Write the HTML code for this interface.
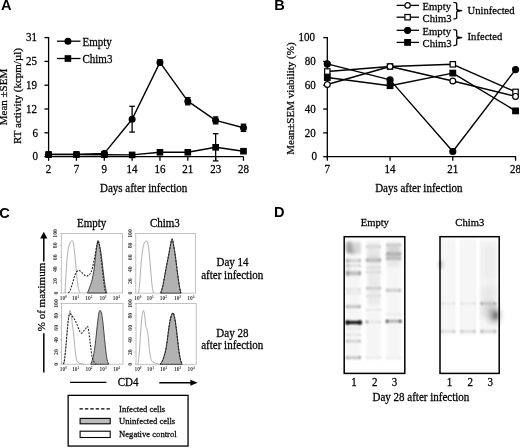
<!DOCTYPE html>
<html><head><meta charset="utf-8"><style>
html,body{margin:0;padding:0;background:#fff;width:520px;height:448px;overflow:hidden;}
svg{display:block;will-change:transform;filter:blur(0.3px);}
</style></head><body>
<svg width="520" height="448" viewBox="0 0 520 448">
<rect width="520" height="448" fill="#fff"/>
<text x="1.00" y="10.10" font-family='"Liberation Sans", sans-serif' font-size="14.6" text-anchor="start" font-weight="bold" fill="#000">A</text>
<text x="274.20" y="10.30" font-family='"Liberation Sans", sans-serif' font-size="14.6" text-anchor="start" font-weight="bold" fill="#000">B</text>
<text x="-0.80" y="218.20" font-family='"Liberation Sans", sans-serif' font-size="14.6" text-anchor="start" font-weight="bold" fill="#000">C</text>
<text x="273.90" y="217.20" font-family='"Liberation Sans", sans-serif' font-size="14.6" text-anchor="start" font-weight="bold" fill="#000">D</text>
<line x1="48.60" y1="37.00" x2="48.60" y2="157.20" stroke="#000" stroke-width="1.3"/>
<line x1="48.00" y1="156.60" x2="243.60" y2="156.60" stroke="#000" stroke-width="1.3"/>
<line x1="44.40" y1="156.60" x2="48.60" y2="156.60" stroke="#000" stroke-width="1.3"/>
<text x="38.00" y="160.40" font-family='"Liberation Serif", serif' font-size="11" text-anchor="end" font-weight="normal" fill="#000" transform="translate(0 -9.624) scale(1 1.06)" stroke="#000" stroke-width="0.25">0</text>
<line x1="44.40" y1="132.80" x2="48.60" y2="132.80" stroke="#000" stroke-width="1.3"/>
<text x="38.00" y="136.60" font-family='"Liberation Serif", serif' font-size="11" text-anchor="end" font-weight="normal" fill="#000" transform="translate(0 -8.196) scale(1 1.06)" stroke="#000" stroke-width="0.25">6</text>
<line x1="44.40" y1="109.00" x2="48.60" y2="109.00" stroke="#000" stroke-width="1.3"/>
<text x="37.05" y="112.80" font-family='"Liberation Serif", serif' font-size="11" text-anchor="end" font-weight="normal" fill="#000" transform="translate(0 -6.768) scale(1 1.06)" stroke="#000" stroke-width="0.25">12</text>
<line x1="44.40" y1="85.20" x2="48.60" y2="85.20" stroke="#000" stroke-width="1.3"/>
<text x="37.05" y="89.00" font-family='"Liberation Serif", serif' font-size="11" text-anchor="end" font-weight="normal" fill="#000" transform="translate(0 -5.340) scale(1 1.06)" stroke="#000" stroke-width="0.25">19</text>
<line x1="44.40" y1="61.40" x2="48.60" y2="61.40" stroke="#000" stroke-width="1.3"/>
<text x="37.05" y="65.20" font-family='"Liberation Serif", serif' font-size="11" text-anchor="end" font-weight="normal" fill="#000" transform="translate(0 -3.912) scale(1 1.06)" stroke="#000" stroke-width="0.25">25</text>
<line x1="44.40" y1="37.60" x2="48.60" y2="37.60" stroke="#000" stroke-width="1.3"/>
<text x="37.05" y="41.40" font-family='"Liberation Serif", serif' font-size="11" text-anchor="end" font-weight="normal" fill="#000" transform="translate(0 -2.484) scale(1 1.06)" stroke="#000" stroke-width="0.25">31</text>
<line x1="48.60" y1="156.60" x2="48.60" y2="160.80" stroke="#000" stroke-width="1.3"/>
<text x="48.60" y="173.20" font-family='"Liberation Serif", serif' font-size="11" text-anchor="middle" font-weight="normal" fill="#000" transform="translate(0 -10.392) scale(1 1.06)" stroke="#000" stroke-width="0.25">2</text>
<line x1="76.44" y1="156.60" x2="76.44" y2="160.80" stroke="#000" stroke-width="1.3"/>
<text x="76.44" y="173.20" font-family='"Liberation Serif", serif' font-size="11" text-anchor="middle" font-weight="normal" fill="#000" transform="translate(0 -10.392) scale(1 1.06)" stroke="#000" stroke-width="0.25">7</text>
<line x1="104.28" y1="156.60" x2="104.28" y2="160.80" stroke="#000" stroke-width="1.3"/>
<text x="104.28" y="173.20" font-family='"Liberation Serif", serif' font-size="11" text-anchor="middle" font-weight="normal" fill="#000" transform="translate(0 -10.392) scale(1 1.06)" stroke="#000" stroke-width="0.25">9</text>
<line x1="132.12" y1="156.60" x2="132.12" y2="160.80" stroke="#000" stroke-width="1.3"/>
<text x="132.12" y="173.20" font-family='"Liberation Serif", serif' font-size="11" text-anchor="middle" font-weight="normal" fill="#000" transform="translate(0 -10.392) scale(1 1.06)" stroke="#000" stroke-width="0.25">14</text>
<line x1="159.96" y1="156.60" x2="159.96" y2="160.80" stroke="#000" stroke-width="1.3"/>
<text x="159.96" y="173.20" font-family='"Liberation Serif", serif' font-size="11" text-anchor="middle" font-weight="normal" fill="#000" transform="translate(0 -10.392) scale(1 1.06)" stroke="#000" stroke-width="0.25">16</text>
<line x1="187.80" y1="156.60" x2="187.80" y2="160.80" stroke="#000" stroke-width="1.3"/>
<text x="187.80" y="173.20" font-family='"Liberation Serif", serif' font-size="11" text-anchor="middle" font-weight="normal" fill="#000" transform="translate(0 -10.392) scale(1 1.06)" stroke="#000" stroke-width="0.25">21</text>
<line x1="215.64" y1="156.60" x2="215.64" y2="160.80" stroke="#000" stroke-width="1.3"/>
<text x="215.64" y="173.20" font-family='"Liberation Serif", serif' font-size="11" text-anchor="middle" font-weight="normal" fill="#000" transform="translate(0 -10.392) scale(1 1.06)" stroke="#000" stroke-width="0.25">23</text>
<line x1="243.48" y1="156.60" x2="243.48" y2="160.80" stroke="#000" stroke-width="1.3"/>
<text x="243.48" y="173.20" font-family='"Liberation Serif", serif' font-size="11" text-anchor="middle" font-weight="normal" fill="#000" transform="translate(0 -10.392) scale(1 1.06)" stroke="#000" stroke-width="0.25">28</text>
<text x="143.60" y="192.40" font-family='"Liberation Serif", serif' font-size="11" text-anchor="middle" font-weight="normal" fill="#000" transform="translate(0 -11.544) scale(1 1.06)" stroke="#000" stroke-width="0.25">Days after infection</text>
<text x="7.40" y="97.00" font-family='"Liberation Serif", serif' font-size="11" text-anchor="middle" font-weight="normal" fill="#000" transform="rotate(-90 7.4 97.0)" stroke="#000" stroke-width="0.25">Mean ±SEM</text>
<text x="21.40" y="96.00" font-family='"Liberation Serif", serif' font-size="11" text-anchor="middle" font-weight="normal" fill="#000" transform="rotate(-90 21.4 96.0)" stroke="#000" stroke-width="0.25">RT activity (kcpm/µl)</text>
<line x1="132.12" y1="106.30" x2="132.12" y2="132.10" stroke="#000" stroke-width="1.3"/>
<line x1="129.32" y1="106.30" x2="134.92" y2="106.30" stroke="#000" stroke-width="1.3"/>
<line x1="129.32" y1="132.10" x2="134.92" y2="132.10" stroke="#000" stroke-width="1.3"/>
<line x1="159.96" y1="59.90" x2="159.96" y2="64.90" stroke="#000" stroke-width="1.3"/>
<line x1="157.16" y1="59.90" x2="162.76" y2="59.90" stroke="#000" stroke-width="1.3"/>
<line x1="157.16" y1="64.90" x2="162.76" y2="64.90" stroke="#000" stroke-width="1.3"/>
<line x1="187.80" y1="97.60" x2="187.80" y2="104.80" stroke="#000" stroke-width="1.3"/>
<line x1="185.00" y1="97.60" x2="190.60" y2="97.60" stroke="#000" stroke-width="1.3"/>
<line x1="185.00" y1="104.80" x2="190.60" y2="104.80" stroke="#000" stroke-width="1.3"/>
<line x1="215.64" y1="116.90" x2="215.64" y2="123.90" stroke="#000" stroke-width="1.3"/>
<line x1="212.84" y1="116.90" x2="218.44" y2="116.90" stroke="#000" stroke-width="1.3"/>
<line x1="212.84" y1="123.90" x2="218.44" y2="123.90" stroke="#000" stroke-width="1.3"/>
<line x1="215.64" y1="133.70" x2="215.64" y2="160.90" stroke="#000" stroke-width="1.3"/>
<line x1="212.84" y1="133.70" x2="218.44" y2="133.70" stroke="#000" stroke-width="1.3"/>
<line x1="212.84" y1="160.90" x2="218.44" y2="160.90" stroke="#000" stroke-width="1.3"/>
<line x1="243.48" y1="124.20" x2="243.48" y2="131.40" stroke="#000" stroke-width="1.3"/>
<line x1="240.68" y1="124.20" x2="246.28" y2="124.20" stroke="#000" stroke-width="1.3"/>
<line x1="240.68" y1="131.40" x2="246.28" y2="131.40" stroke="#000" stroke-width="1.3"/>
<polyline points="48.60,154.40 76.44,154.40 104.28,153.40 132.12,119.20 159.96,62.40 187.80,101.20 215.64,120.40 243.48,127.80" fill="none" stroke="#000" stroke-width="1.4" stroke-linejoin="round"/>
<polyline points="48.60,154.50 76.44,154.50 104.28,154.70 132.12,154.90 159.96,152.30 187.80,152.30 215.64,147.30 243.48,151.20" fill="none" stroke="#000" stroke-width="1.4" stroke-linejoin="round"/>
<circle cx="48.60" cy="154.40" r="2.9" fill="#000" stroke="#000" stroke-width="1.2"/>
<circle cx="76.44" cy="154.40" r="2.9" fill="#000" stroke="#000" stroke-width="1.2"/>
<circle cx="104.28" cy="153.40" r="2.9" fill="#000" stroke="#000" stroke-width="1.2"/>
<circle cx="132.12" cy="119.20" r="2.9" fill="#000" stroke="#000" stroke-width="1.2"/>
<circle cx="159.96" cy="62.40" r="2.9" fill="#000" stroke="#000" stroke-width="1.2"/>
<circle cx="187.80" cy="101.20" r="2.9" fill="#000" stroke="#000" stroke-width="1.2"/>
<circle cx="215.64" cy="120.40" r="2.9" fill="#000" stroke="#000" stroke-width="1.2"/>
<circle cx="243.48" cy="127.80" r="2.9" fill="#000" stroke="#000" stroke-width="1.2"/>
<rect x="45.90" y="151.80" width="5.4" height="5.4" fill="#000" stroke="#000" stroke-width="1.2"/>
<rect x="73.74" y="151.80" width="5.4" height="5.4" fill="#000" stroke="#000" stroke-width="1.2"/>
<rect x="101.58" y="152.00" width="5.4" height="5.4" fill="#000" stroke="#000" stroke-width="1.2"/>
<rect x="129.42" y="152.20" width="5.4" height="5.4" fill="#000" stroke="#000" stroke-width="1.2"/>
<rect x="157.26" y="149.60" width="5.4" height="5.4" fill="#000" stroke="#000" stroke-width="1.2"/>
<rect x="185.10" y="149.60" width="5.4" height="5.4" fill="#000" stroke="#000" stroke-width="1.2"/>
<rect x="212.94" y="144.60" width="5.4" height="5.4" fill="#000" stroke="#000" stroke-width="1.2"/>
<rect x="240.78" y="148.50" width="5.4" height="5.4" fill="#000" stroke="#000" stroke-width="1.2"/>
<line x1="57.00" y1="41.20" x2="80.50" y2="41.20" stroke="#000" stroke-width="1.3"/>
<circle cx="67.90" cy="41.20" r="2.9" fill="#000" stroke="#000" stroke-width="1.2"/>
<line x1="57.00" y1="58.50" x2="80.50" y2="58.50" stroke="#000" stroke-width="1.3"/>
<rect x="65.20" y="55.80" width="5.4" height="5.4" fill="#000" stroke="#000" stroke-width="1.2"/>
<text x="82.50" y="45.80" font-family='"Liberation Serif", serif' font-size="11" text-anchor="start" font-weight="normal" fill="#000" transform="translate(0 -2.748) scale(1 1.06)" stroke="#000" stroke-width="0.25">Empty</text>
<text x="82.50" y="62.70" font-family='"Liberation Serif", serif' font-size="11" text-anchor="start" font-weight="normal" fill="#000" transform="translate(0 -3.762) scale(1 1.06)" stroke="#000" stroke-width="0.25">Chim3</text>
<line x1="327.30" y1="37.00" x2="327.30" y2="157.30" stroke="#000" stroke-width="1.3"/>
<line x1="326.70" y1="156.70" x2="516.00" y2="156.70" stroke="#000" stroke-width="1.3"/>
<line x1="323.20" y1="156.70" x2="327.30" y2="156.70" stroke="#000" stroke-width="1.3"/>
<text x="317.00" y="160.50" font-family='"Liberation Serif", serif' font-size="11" text-anchor="end" font-weight="normal" fill="#000" transform="translate(0 -9.630) scale(1 1.06)" stroke="#000" stroke-width="0.25">0</text>
<line x1="323.20" y1="132.88" x2="327.30" y2="132.88" stroke="#000" stroke-width="1.3"/>
<text x="315.80" y="136.68" font-family='"Liberation Serif", serif' font-size="11" text-anchor="end" font-weight="normal" fill="#000" transform="translate(0 -8.201) scale(1 1.06)" stroke="#000" stroke-width="0.25">20</text>
<line x1="323.20" y1="109.06" x2="327.30" y2="109.06" stroke="#000" stroke-width="1.3"/>
<text x="315.80" y="112.86" font-family='"Liberation Serif", serif' font-size="11" text-anchor="end" font-weight="normal" fill="#000" transform="translate(0 -6.772) scale(1 1.06)" stroke="#000" stroke-width="0.25">40</text>
<line x1="323.20" y1="85.24" x2="327.30" y2="85.24" stroke="#000" stroke-width="1.3"/>
<text x="315.80" y="89.04" font-family='"Liberation Serif", serif' font-size="11" text-anchor="end" font-weight="normal" fill="#000" transform="translate(0 -5.342) scale(1 1.06)" stroke="#000" stroke-width="0.25">60</text>
<line x1="323.20" y1="61.42" x2="327.30" y2="61.42" stroke="#000" stroke-width="1.3"/>
<text x="315.80" y="65.22" font-family='"Liberation Serif", serif' font-size="11" text-anchor="end" font-weight="normal" fill="#000" transform="translate(0 -3.913) scale(1 1.06)" stroke="#000" stroke-width="0.25">80</text>
<line x1="323.20" y1="37.60" x2="327.30" y2="37.60" stroke="#000" stroke-width="1.3"/>
<text x="314.90" y="41.40" font-family='"Liberation Serif", serif' font-size="11" text-anchor="end" font-weight="normal" fill="#000" transform="translate(0 -2.484) scale(1 1.06)" stroke="#000" stroke-width="0.25">100</text>
<line x1="327.30" y1="156.70" x2="327.30" y2="160.80" stroke="#000" stroke-width="1.3"/>
<text x="327.30" y="173.20" font-family='"Liberation Serif", serif' font-size="11" text-anchor="middle" font-weight="normal" fill="#000" transform="translate(0 -10.392) scale(1 1.06)" stroke="#000" stroke-width="0.25">7</text>
<line x1="390.05" y1="156.70" x2="390.05" y2="160.80" stroke="#000" stroke-width="1.3"/>
<text x="390.05" y="173.20" font-family='"Liberation Serif", serif' font-size="11" text-anchor="middle" font-weight="normal" fill="#000" transform="translate(0 -10.392) scale(1 1.06)" stroke="#000" stroke-width="0.25">14</text>
<line x1="452.80" y1="156.70" x2="452.80" y2="160.80" stroke="#000" stroke-width="1.3"/>
<text x="452.80" y="173.20" font-family='"Liberation Serif", serif' font-size="11" text-anchor="middle" font-weight="normal" fill="#000" transform="translate(0 -10.392) scale(1 1.06)" stroke="#000" stroke-width="0.25">21</text>
<line x1="515.55" y1="156.70" x2="515.55" y2="160.80" stroke="#000" stroke-width="1.3"/>
<text x="515.55" y="173.20" font-family='"Liberation Serif", serif' font-size="11" text-anchor="middle" font-weight="normal" fill="#000" transform="translate(0 -10.392) scale(1 1.06)" stroke="#000" stroke-width="0.25">28</text>
<text x="418.80" y="192.40" font-family='"Liberation Serif", serif' font-size="11" text-anchor="middle" font-weight="normal" fill="#000" transform="translate(0 -11.544) scale(1 1.06)" stroke="#000" stroke-width="0.25">Days after infection</text>
<text x="294.00" y="98.60" font-family='"Liberation Serif", serif' font-size="11" text-anchor="middle" font-weight="normal" fill="#000" transform="rotate(-90 294.0 98.6)" stroke="#000" stroke-width="0.25">Mean±SEM viability (%)</text>
<polyline points="327.30,63.90 390.05,79.90 452.80,151.50 515.55,69.60" fill="none" stroke="#000" stroke-width="1.4" stroke-linejoin="round"/>
<polyline points="327.30,71.50 390.05,66.50 452.80,64.30 515.55,91.90" fill="none" stroke="#000" stroke-width="1.4" stroke-linejoin="round"/>
<polyline points="327.30,77.50 390.05,85.70 452.80,73.10 515.55,110.90" fill="none" stroke="#000" stroke-width="1.4" stroke-linejoin="round"/>
<polyline points="327.30,84.50 390.05,66.50 452.80,81.00 515.55,96.40" fill="none" stroke="#000" stroke-width="1.4" stroke-linejoin="round"/>
<rect x="324.50" y="74.70" width="5.6" height="5.6" fill="#000" stroke="#000" stroke-width="1.2"/>
<circle cx="327.30" cy="63.90" r="3.0" fill="#000" stroke="#000" stroke-width="1.2"/>
<rect x="324.60" y="68.80" width="5.4" height="5.4" fill="#fff" stroke="#000" stroke-width="1.2"/>
<circle cx="327.30" cy="84.50" r="2.9" fill="#fff" stroke="#000" stroke-width="1.2"/>
<rect x="387.25" y="82.90" width="5.6" height="5.6" fill="#000" stroke="#000" stroke-width="1.2"/>
<circle cx="390.05" cy="79.90" r="3.0" fill="#000" stroke="#000" stroke-width="1.2"/>
<rect x="387.35" y="63.80" width="5.4" height="5.4" fill="#fff" stroke="#000" stroke-width="1.2"/>
<circle cx="390.05" cy="66.50" r="2.9" fill="#fff" stroke="#000" stroke-width="1.2"/>
<rect x="450.00" y="70.30" width="5.6" height="5.6" fill="#000" stroke="#000" stroke-width="1.2"/>
<circle cx="452.80" cy="151.50" r="3.0" fill="#000" stroke="#000" stroke-width="1.2"/>
<rect x="450.10" y="61.60" width="5.4" height="5.4" fill="#fff" stroke="#000" stroke-width="1.2"/>
<circle cx="452.80" cy="81.00" r="2.9" fill="#fff" stroke="#000" stroke-width="1.2"/>
<rect x="512.75" y="108.10" width="5.6" height="5.6" fill="#000" stroke="#000" stroke-width="1.2"/>
<circle cx="515.55" cy="69.60" r="3.0" fill="#000" stroke="#000" stroke-width="1.2"/>
<rect x="512.85" y="89.20" width="5.4" height="5.4" fill="#fff" stroke="#000" stroke-width="1.2"/>
<circle cx="515.55" cy="96.40" r="2.9" fill="#fff" stroke="#000" stroke-width="1.2"/>
<line x1="396.60" y1="5.40" x2="419.00" y2="5.40" stroke="#000" stroke-width="1.3"/>
<circle cx="407.60" cy="5.40" r="2.7" fill="#fff" stroke="#000" stroke-width="1.2"/>
<line x1="396.60" y1="17.20" x2="419.00" y2="17.20" stroke="#000" stroke-width="1.3"/>
<rect x="404.90" y="14.50" width="5.4" height="5.4" fill="#fff" stroke="#000" stroke-width="1.2"/>
<line x1="396.60" y1="30.30" x2="419.00" y2="30.30" stroke="#000" stroke-width="1.3"/>
<circle cx="407.60" cy="30.30" r="3.0" fill="#000" stroke="#000" stroke-width="1.2"/>
<line x1="396.60" y1="42.40" x2="419.00" y2="42.40" stroke="#000" stroke-width="1.3"/>
<rect x="404.80" y="39.60" width="5.6" height="5.6" fill="#000" stroke="#000" stroke-width="1.2"/>
<text x="422.50" y="9.80" font-family='"Liberation Serif", serif' font-size="10.7" text-anchor="start" font-weight="normal" fill="#000" transform="translate(0 -0.588) scale(1 1.06)" stroke="#000" stroke-width="0.25">Empty</text>
<text x="422.50" y="21.90" font-family='"Liberation Serif", serif' font-size="10.7" text-anchor="start" font-weight="normal" fill="#000" transform="translate(0 -1.314) scale(1 1.06)" stroke="#000" stroke-width="0.25">Chim3</text>
<text x="422.50" y="35.00" font-family='"Liberation Serif", serif' font-size="10.7" text-anchor="start" font-weight="normal" fill="#000" transform="translate(0 -2.100) scale(1 1.06)" stroke="#000" stroke-width="0.25">Empty</text>
<text x="422.50" y="47.20" font-family='"Liberation Serif", serif' font-size="10.7" text-anchor="start" font-weight="normal" fill="#000" transform="translate(0 -2.832) scale(1 1.06)" stroke="#000" stroke-width="0.25">Chim3</text>
<path d="M453.4,2.4 Q456.7,2.4 456.7,3.9 L456.7,9.049999999999999 Q456.7,10.349999999999998 461.7,10.649999999999999 Q456.7,10.95 456.7,12.249999999999998 L456.7,17.4 Q456.7,18.9 453.4,18.9" fill="none" stroke="#000" stroke-width="1.3" stroke-linejoin="round"/>
<path d="M456.7,9.45 L461.7,10.649999999999999 L456.7,11.849999999999998 Z" fill="#000"/>
<path d="M453.4,29.7 Q456.7,29.7 456.7,31.2 L456.7,36.05 Q456.7,37.35 461.7,37.65 Q456.7,37.949999999999996 456.7,39.25 L456.7,44.1 Q456.7,45.6 453.4,45.6" fill="none" stroke="#000" stroke-width="1.3" stroke-linejoin="round"/>
<path d="M456.7,36.449999999999996 L461.7,37.65 L456.7,38.85 Z" fill="#000"/>
<text x="467.60" y="13.80" font-family='"Liberation Serif", serif' font-size="10.6" text-anchor="start" font-weight="normal" fill="#000" transform="translate(0 -0.828) scale(1 1.06)" stroke="#000" stroke-width="0.25">Uninfected</text>
<text x="467.60" y="40.30" font-family='"Liberation Serif", serif' font-size="10.6" text-anchor="start" font-weight="normal" fill="#000" transform="translate(0 -2.418) scale(1 1.06)" stroke="#000" stroke-width="0.25">Infected</text>
<rect x="61.3" y="233.4" width="61.30" height="59.60" fill="none" stroke="#b4b4b4" stroke-width="0.8"/>
<text x="57.50" y="293.00" font-family='"Liberation Serif", serif' font-size="5.8" text-anchor="middle" font-weight="bold" fill="#444" transform="rotate(-90 57.5 293.0)">0</text>
<line x1="59.70" y1="293.00" x2="61.30" y2="293.00" stroke="#aaa" stroke-width="0.5"/>
<text x="57.50" y="281.08" font-family='"Liberation Serif", serif' font-size="5.8" text-anchor="middle" font-weight="bold" fill="#444" transform="rotate(-90 57.5 281.08)">20</text>
<line x1="59.70" y1="281.08" x2="61.30" y2="281.08" stroke="#aaa" stroke-width="0.5"/>
<text x="57.50" y="269.16" font-family='"Liberation Serif", serif' font-size="5.8" text-anchor="middle" font-weight="bold" fill="#444" transform="rotate(-90 57.5 269.16)">40</text>
<line x1="59.70" y1="269.16" x2="61.30" y2="269.16" stroke="#aaa" stroke-width="0.5"/>
<text x="57.50" y="257.24" font-family='"Liberation Serif", serif' font-size="5.8" text-anchor="middle" font-weight="bold" fill="#444" transform="rotate(-90 57.5 257.24)">60</text>
<line x1="59.70" y1="257.24" x2="61.30" y2="257.24" stroke="#aaa" stroke-width="0.5"/>
<text x="57.50" y="245.32" font-family='"Liberation Serif", serif' font-size="5.8" text-anchor="middle" font-weight="bold" fill="#444" transform="rotate(-90 57.5 245.32)">80</text>
<line x1="59.70" y1="245.32" x2="61.30" y2="245.32" stroke="#aaa" stroke-width="0.5"/>
<text x="57.50" y="233.40" font-family='"Liberation Serif", serif' font-size="5.8" text-anchor="middle" font-weight="bold" fill="#444" transform="rotate(-90 57.5 233.4)">100</text>
<line x1="59.70" y1="233.40" x2="61.30" y2="233.40" stroke="#aaa" stroke-width="0.5"/>
<text x="63.30" y="299.60" font-family='"Liberation Serif", serif' font-size="5.4" text-anchor="middle" fill="#444" font-weight="bold">10<tspan font-size="3.4" dy="-1.8">0</tspan></text>
<text x="75.60" y="299.60" font-family='"Liberation Serif", serif' font-size="5.4" text-anchor="middle" fill="#444" font-weight="bold">10<tspan font-size="3.4" dy="-1.8">1</tspan></text>
<text x="88.90" y="299.60" font-family='"Liberation Serif", serif' font-size="5.4" text-anchor="middle" fill="#444" font-weight="bold">10<tspan font-size="3.4" dy="-1.8">2</tspan></text>
<text x="103.00" y="299.60" font-family='"Liberation Serif", serif' font-size="5.4" text-anchor="middle" fill="#444" font-weight="bold">10<tspan font-size="3.4" dy="-1.8">3</tspan></text>
<text x="116.40" y="299.60" font-family='"Liberation Serif", serif' font-size="5.4" text-anchor="middle" fill="#444" font-weight="bold">10<tspan font-size="3.4" dy="-1.8">4</tspan></text>
<rect x="135.8" y="233.5" width="59.60" height="59.60" fill="none" stroke="#b4b4b4" stroke-width="0.8"/>
<text x="132.00" y="293.10" font-family='"Liberation Serif", serif' font-size="5.8" text-anchor="middle" font-weight="bold" fill="#444" transform="rotate(-90 132.0 293.1)">0</text>
<line x1="134.20" y1="293.10" x2="135.80" y2="293.10" stroke="#aaa" stroke-width="0.5"/>
<text x="132.00" y="281.18" font-family='"Liberation Serif", serif' font-size="5.8" text-anchor="middle" font-weight="bold" fill="#444" transform="rotate(-90 132.0 281.18)">20</text>
<line x1="134.20" y1="281.18" x2="135.80" y2="281.18" stroke="#aaa" stroke-width="0.5"/>
<text x="132.00" y="269.26" font-family='"Liberation Serif", serif' font-size="5.8" text-anchor="middle" font-weight="bold" fill="#444" transform="rotate(-90 132.0 269.26)">40</text>
<line x1="134.20" y1="269.26" x2="135.80" y2="269.26" stroke="#aaa" stroke-width="0.5"/>
<text x="132.00" y="257.34" font-family='"Liberation Serif", serif' font-size="5.8" text-anchor="middle" font-weight="bold" fill="#444" transform="rotate(-90 132.0 257.34000000000003)">60</text>
<line x1="134.20" y1="257.34" x2="135.80" y2="257.34" stroke="#aaa" stroke-width="0.5"/>
<text x="132.00" y="245.42" font-family='"Liberation Serif", serif' font-size="5.8" text-anchor="middle" font-weight="bold" fill="#444" transform="rotate(-90 132.0 245.42000000000002)">80</text>
<line x1="134.20" y1="245.42" x2="135.80" y2="245.42" stroke="#aaa" stroke-width="0.5"/>
<text x="132.00" y="233.50" font-family='"Liberation Serif", serif' font-size="5.8" text-anchor="middle" font-weight="bold" fill="#444" transform="rotate(-90 132.0 233.5)">100</text>
<line x1="134.20" y1="233.50" x2="135.80" y2="233.50" stroke="#aaa" stroke-width="0.5"/>
<text x="137.80" y="299.70" font-family='"Liberation Serif", serif' font-size="5.4" text-anchor="middle" fill="#444" font-weight="bold">10<tspan font-size="3.4" dy="-1.8">0</tspan></text>
<text x="150.10" y="299.70" font-family='"Liberation Serif", serif' font-size="5.4" text-anchor="middle" fill="#444" font-weight="bold">10<tspan font-size="3.4" dy="-1.8">1</tspan></text>
<text x="163.40" y="299.70" font-family='"Liberation Serif", serif' font-size="5.4" text-anchor="middle" fill="#444" font-weight="bold">10<tspan font-size="3.4" dy="-1.8">2</tspan></text>
<text x="177.50" y="299.70" font-family='"Liberation Serif", serif' font-size="5.4" text-anchor="middle" fill="#444" font-weight="bold">10<tspan font-size="3.4" dy="-1.8">3</tspan></text>
<text x="190.90" y="299.70" font-family='"Liberation Serif", serif' font-size="5.4" text-anchor="middle" fill="#444" font-weight="bold">10<tspan font-size="3.4" dy="-1.8">4</tspan></text>
<rect x="61.4" y="303.5" width="61.60" height="60.70" fill="none" stroke="#b4b4b4" stroke-width="0.8"/>
<text x="57.60" y="364.20" font-family='"Liberation Serif", serif' font-size="5.8" text-anchor="middle" font-weight="bold" fill="#444" transform="rotate(-90 57.6 364.2)">0</text>
<line x1="59.80" y1="364.20" x2="61.40" y2="364.20" stroke="#aaa" stroke-width="0.5"/>
<text x="57.60" y="352.06" font-family='"Liberation Serif", serif' font-size="5.8" text-anchor="middle" font-weight="bold" fill="#444" transform="rotate(-90 57.6 352.06)">20</text>
<line x1="59.80" y1="352.06" x2="61.40" y2="352.06" stroke="#aaa" stroke-width="0.5"/>
<text x="57.60" y="339.92" font-family='"Liberation Serif", serif' font-size="5.8" text-anchor="middle" font-weight="bold" fill="#444" transform="rotate(-90 57.6 339.92)">40</text>
<line x1="59.80" y1="339.92" x2="61.40" y2="339.92" stroke="#aaa" stroke-width="0.5"/>
<text x="57.60" y="327.78" font-family='"Liberation Serif", serif' font-size="5.8" text-anchor="middle" font-weight="bold" fill="#444" transform="rotate(-90 57.6 327.78)">60</text>
<line x1="59.80" y1="327.78" x2="61.40" y2="327.78" stroke="#aaa" stroke-width="0.5"/>
<text x="57.60" y="315.64" font-family='"Liberation Serif", serif' font-size="5.8" text-anchor="middle" font-weight="bold" fill="#444" transform="rotate(-90 57.6 315.64)">80</text>
<line x1="59.80" y1="315.64" x2="61.40" y2="315.64" stroke="#aaa" stroke-width="0.5"/>
<text x="57.60" y="303.50" font-family='"Liberation Serif", serif' font-size="5.8" text-anchor="middle" font-weight="bold" fill="#444" transform="rotate(-90 57.6 303.5)">100</text>
<line x1="59.80" y1="303.50" x2="61.40" y2="303.50" stroke="#aaa" stroke-width="0.5"/>
<text x="63.40" y="370.80" font-family='"Liberation Serif", serif' font-size="5.4" text-anchor="middle" fill="#444" font-weight="bold">10<tspan font-size="3.4" dy="-1.8">0</tspan></text>
<text x="75.70" y="370.80" font-family='"Liberation Serif", serif' font-size="5.4" text-anchor="middle" fill="#444" font-weight="bold">10<tspan font-size="3.4" dy="-1.8">1</tspan></text>
<text x="89.00" y="370.80" font-family='"Liberation Serif", serif' font-size="5.4" text-anchor="middle" fill="#444" font-weight="bold">10<tspan font-size="3.4" dy="-1.8">2</tspan></text>
<text x="103.10" y="370.80" font-family='"Liberation Serif", serif' font-size="5.4" text-anchor="middle" fill="#444" font-weight="bold">10<tspan font-size="3.4" dy="-1.8">3</tspan></text>
<text x="116.50" y="370.80" font-family='"Liberation Serif", serif' font-size="5.4" text-anchor="middle" fill="#444" font-weight="bold">10<tspan font-size="3.4" dy="-1.8">4</tspan></text>
<rect x="136.0" y="303.5" width="60.20" height="60.80" fill="none" stroke="#b4b4b4" stroke-width="0.8"/>
<text x="132.20" y="364.30" font-family='"Liberation Serif", serif' font-size="5.8" text-anchor="middle" font-weight="bold" fill="#444" transform="rotate(-90 132.2 364.3)">0</text>
<line x1="134.40" y1="364.30" x2="136.00" y2="364.30" stroke="#aaa" stroke-width="0.5"/>
<text x="132.20" y="352.14" font-family='"Liberation Serif", serif' font-size="5.8" text-anchor="middle" font-weight="bold" fill="#444" transform="rotate(-90 132.2 352.14)">20</text>
<line x1="134.40" y1="352.14" x2="136.00" y2="352.14" stroke="#aaa" stroke-width="0.5"/>
<text x="132.20" y="339.98" font-family='"Liberation Serif", serif' font-size="5.8" text-anchor="middle" font-weight="bold" fill="#444" transform="rotate(-90 132.2 339.98)">40</text>
<line x1="134.40" y1="339.98" x2="136.00" y2="339.98" stroke="#aaa" stroke-width="0.5"/>
<text x="132.20" y="327.82" font-family='"Liberation Serif", serif' font-size="5.8" text-anchor="middle" font-weight="bold" fill="#444" transform="rotate(-90 132.2 327.82)">60</text>
<line x1="134.40" y1="327.82" x2="136.00" y2="327.82" stroke="#aaa" stroke-width="0.5"/>
<text x="132.20" y="315.66" font-family='"Liberation Serif", serif' font-size="5.8" text-anchor="middle" font-weight="bold" fill="#444" transform="rotate(-90 132.2 315.66)">80</text>
<line x1="134.40" y1="315.66" x2="136.00" y2="315.66" stroke="#aaa" stroke-width="0.5"/>
<text x="132.20" y="303.50" font-family='"Liberation Serif", serif' font-size="5.8" text-anchor="middle" font-weight="bold" fill="#444" transform="rotate(-90 132.2 303.5)">100</text>
<line x1="134.40" y1="303.50" x2="136.00" y2="303.50" stroke="#aaa" stroke-width="0.5"/>
<text x="138.00" y="370.90" font-family='"Liberation Serif", serif' font-size="5.4" text-anchor="middle" fill="#444" font-weight="bold">10<tspan font-size="3.4" dy="-1.8">0</tspan></text>
<text x="150.30" y="370.90" font-family='"Liberation Serif", serif' font-size="5.4" text-anchor="middle" fill="#444" font-weight="bold">10<tspan font-size="3.4" dy="-1.8">1</tspan></text>
<text x="163.60" y="370.90" font-family='"Liberation Serif", serif' font-size="5.4" text-anchor="middle" fill="#444" font-weight="bold">10<tspan font-size="3.4" dy="-1.8">2</tspan></text>
<text x="177.70" y="370.90" font-family='"Liberation Serif", serif' font-size="5.4" text-anchor="middle" fill="#444" font-weight="bold">10<tspan font-size="3.4" dy="-1.8">3</tspan></text>
<text x="191.10" y="370.90" font-family='"Liberation Serif", serif' font-size="5.4" text-anchor="middle" fill="#444" font-weight="bold">10<tspan font-size="3.4" dy="-1.8">4</tspan></text>
<path d="M65.00,293.00 C65.17,290.03 65.60,281.52 66.00,275.20 C66.40,268.88 66.83,260.23 67.40,255.10 C67.97,249.97 68.67,246.82 69.40,244.40 C70.13,241.98 71.13,240.83 71.80,240.60 C72.47,240.37 72.92,240.80 73.40,243.00 C73.88,245.20 74.25,249.55 74.70,253.80 C75.15,258.05 75.65,263.82 76.10,268.50 C76.55,273.18 76.95,278.32 77.40,281.90 C77.85,285.48 78.35,288.15 78.80,290.00 C79.25,291.85 79.88,292.50 80.10,293.00" fill="none" stroke="#9a9a9a" stroke-width="0.8"/>
<path d="M87.50,293.00 C87.95,291.82 89.42,288.20 90.20,285.90 C90.98,283.60 91.53,282.10 92.20,279.20 C92.87,276.30 93.65,272.30 94.20,268.50 C94.75,264.70 94.98,260.65 95.50,256.40 C96.02,252.15 96.85,245.57 97.30,243.00 C97.75,240.43 97.72,240.10 98.20,241.00 C98.68,241.90 99.63,245.60 100.20,248.40 C100.77,251.20 101.15,254.45 101.60,257.80 C102.05,261.15 102.47,264.93 102.90,268.50 C103.33,272.07 103.75,275.85 104.20,279.20 C104.65,282.55 105.15,286.30 105.60,288.60 C106.05,290.90 106.68,292.27 106.90,293.00 Z" fill="#b2b2b2" stroke="#333" stroke-width="0.9"/>
<path d="M68.50,293.00 C68.75,292.60 69.40,292.00 70.00,290.60 C70.60,289.20 71.42,286.72 72.10,284.60 C72.78,282.48 73.43,279.92 74.10,277.90 C74.77,275.88 75.32,273.73 76.10,272.50 C76.88,271.27 77.92,270.60 78.80,270.50 C79.68,270.40 80.62,271.23 81.40,271.90 C82.18,272.57 82.72,273.83 83.50,274.50 C84.28,275.17 85.22,275.78 86.10,275.90 C86.98,276.02 87.90,275.98 88.80,275.20 C89.70,274.42 90.72,273.22 91.50,271.20 C92.28,269.18 92.90,265.78 93.50,263.10 C94.10,260.42 94.60,257.77 95.10,255.10 C95.60,252.43 95.98,249.45 96.50,247.10 C97.02,244.75 97.70,241.23 98.20,241.00 C98.70,240.77 99.05,243.13 99.50,245.70 C99.95,248.27 100.45,252.60 100.90,256.40 C101.35,260.20 101.75,264.47 102.20,268.50 C102.65,272.53 103.15,277.02 103.60,280.60 C104.05,284.18 104.47,287.93 104.90,290.00 C105.33,292.07 105.98,292.50 106.20,293.00" fill="none" stroke="#222" stroke-width="1.05" stroke-dasharray="1.9,1.3"/>
<path d="M138.70,293.10 C138.92,290.78 139.55,284.63 140.00,279.20 C140.45,273.77 140.83,266.08 141.40,260.50 C141.97,254.92 142.58,248.95 143.40,245.70 C144.22,242.45 145.52,241.22 146.30,241.00 C147.08,240.78 147.58,242.05 148.10,244.40 C148.62,246.75 148.95,250.63 149.40,255.10 C149.85,259.57 150.35,266.07 150.80,271.20 C151.25,276.33 151.67,282.25 152.10,285.90 C152.53,289.55 153.18,291.90 153.40,293.10" fill="none" stroke="#9a9a9a" stroke-width="0.8"/>
<path d="M160.80,293.10 C161.13,291.90 162.13,288.88 162.80,285.90 C163.47,282.92 164.13,278.77 164.80,275.20 C165.47,271.63 166.12,268.07 166.80,264.50 C167.48,260.93 168.22,257.38 168.90,253.80 C169.58,250.22 170.35,245.47 170.90,243.00 C171.45,240.53 171.77,238.77 172.20,239.00 C172.63,239.23 172.93,241.27 173.50,244.40 C174.07,247.53 174.92,252.88 175.60,257.80 C176.28,262.72 176.93,268.98 177.60,273.90 C178.27,278.82 179.05,284.10 179.60,287.30 C180.15,290.50 180.68,292.13 180.90,293.10 Z" fill="#b2b2b2" stroke="#333" stroke-width="0.9"/>
<path d="M160.80,293.10 C161.13,291.90 162.13,288.88 162.80,285.90 C163.47,282.92 164.13,278.77 164.80,275.20 C165.47,271.63 166.12,268.07 166.80,264.50 C167.48,260.93 168.22,257.38 168.90,253.80 C169.58,250.22 170.35,245.47 170.90,243.00 C171.45,240.53 171.77,238.77 172.20,239.00 C172.63,239.23 172.93,241.27 173.50,244.40 C174.07,247.53 174.92,252.88 175.60,257.80 C176.28,262.72 176.93,268.98 177.60,273.90 C178.27,278.82 179.05,284.10 179.60,287.30 C180.15,290.50 180.68,292.13 180.90,293.10" fill="none" stroke="#222" stroke-width="1.05" stroke-dasharray="1.9,1.3"/>
<path d="M64.00,364.20 C64.33,361.03 65.37,351.72 66.00,345.20 C66.63,338.68 67.23,330.47 67.80,325.10 C68.37,319.73 69.02,315.45 69.40,313.00 C69.78,310.55 69.77,309.95 70.10,310.40 C70.43,310.85 71.07,313.70 71.40,315.70 C71.73,317.70 71.77,319.72 72.10,322.40 C72.43,325.08 72.97,328.00 73.40,331.80 C73.83,335.60 74.25,340.95 74.70,345.20 C75.15,349.45 75.53,354.40 76.10,357.30 C76.67,360.20 76.77,361.45 78.10,362.60 C79.43,363.75 83.10,363.93 84.10,364.20" fill="none" stroke="#9a9a9a" stroke-width="0.8"/>
<path d="M90.80,364.20 C91.13,363.27 92.17,361.10 92.80,358.60 C93.43,356.10 94.08,352.55 94.60,349.20 C95.12,345.85 95.45,342.52 95.90,338.50 C96.35,334.48 96.80,329.35 97.30,325.10 C97.80,320.85 98.42,315.45 98.90,313.00 C99.38,310.55 99.72,310.17 100.20,310.40 C100.68,310.63 101.30,311.95 101.80,314.40 C102.30,316.85 102.75,321.08 103.20,325.10 C103.65,329.12 104.07,334.25 104.50,338.50 C104.93,342.75 105.35,347.02 105.80,350.60 C106.25,354.18 106.68,357.73 107.20,360.00 C107.72,362.27 108.62,363.50 108.90,364.20 Z" fill="#b2b2b2" stroke="#333" stroke-width="0.9"/>
<path d="M63.40,364.20 C63.62,363.27 64.27,361.77 64.70,358.60 C65.13,355.43 65.55,350.12 66.00,345.20 C66.45,340.28 67.02,333.35 67.40,329.10 C67.78,324.85 67.92,322.27 68.30,319.70 C68.68,317.13 69.18,314.47 69.70,313.70 C70.22,312.93 70.78,314.43 71.40,315.10 C72.02,315.77 72.73,316.70 73.40,317.70 C74.07,318.70 74.77,319.87 75.40,321.10 C76.03,322.33 76.53,323.53 77.20,325.10 C77.87,326.67 78.70,329.15 79.40,330.50 C80.10,331.85 80.72,333.10 81.40,333.20 C82.08,333.30 82.82,331.78 83.50,331.10 C84.18,330.42 84.83,329.88 85.50,329.10 C86.17,328.32 86.95,325.95 87.50,326.40 C88.05,326.85 88.42,329.57 88.80,331.80 C89.18,334.03 89.47,337.12 89.80,339.80 C90.13,342.48 90.40,344.98 90.80,347.90 C91.20,350.82 91.63,354.95 92.20,357.30 C92.77,359.65 93.53,360.85 94.20,362.00 C94.87,363.15 95.87,363.83 96.20,364.20" fill="none" stroke="#222" stroke-width="1.05" stroke-dasharray="1.9,1.3"/>
<path d="M138.00,364.30 C138.23,362.23 138.95,357.32 139.40,351.90 C139.85,346.48 140.27,337.60 140.70,331.80 C141.13,326.00 141.55,320.67 142.00,317.10 C142.45,313.53 142.95,310.63 143.40,310.40 C143.85,310.17 144.30,313.03 144.70,315.70 C145.10,318.37 145.47,324.27 145.80,326.40 C146.13,328.53 146.32,326.93 146.70,328.50 C147.08,330.07 147.65,332.35 148.10,335.80 C148.55,339.25 148.95,345.40 149.40,349.20 C149.85,353.00 150.23,356.47 150.80,358.60 C151.37,360.73 151.92,361.22 152.80,362.00 C153.68,362.78 155.10,362.92 156.10,363.30 C157.10,363.68 158.35,364.13 158.80,364.30" fill="none" stroke="#9a9a9a" stroke-width="0.8"/>
<path d="M160.10,364.30 C160.45,363.80 161.52,362.70 162.20,361.30 C162.88,359.90 163.58,357.92 164.20,355.90 C164.82,353.88 165.35,352.10 165.90,349.20 C166.45,346.30 166.97,342.30 167.50,338.50 C168.03,334.70 168.53,329.97 169.10,326.40 C169.67,322.83 170.27,319.33 170.90,317.10 C171.53,314.87 172.30,313.00 172.90,313.00 C173.50,313.00 173.95,314.63 174.50,317.10 C175.05,319.57 175.68,324.02 176.20,327.80 C176.72,331.58 177.15,336.00 177.60,339.80 C178.05,343.60 178.47,347.47 178.90,350.60 C179.33,353.73 179.68,356.32 180.20,358.60 C180.72,360.88 181.70,363.35 182.00,364.30 Z" fill="#b2b2b2" stroke="#333" stroke-width="0.9"/>
<path d="M160.10,364.30 C160.45,363.80 161.52,362.70 162.20,361.30 C162.88,359.90 163.58,357.92 164.20,355.90 C164.82,353.88 165.35,352.10 165.90,349.20 C166.45,346.30 166.97,342.30 167.50,338.50 C168.03,334.70 168.53,329.97 169.10,326.40 C169.67,322.83 170.27,319.33 170.90,317.10 C171.53,314.87 172.30,313.00 172.90,313.00 C173.50,313.00 173.95,314.63 174.50,317.10 C175.05,319.57 175.68,324.02 176.20,327.80 C176.72,331.58 177.15,336.00 177.60,339.80 C178.05,343.60 178.47,347.47 178.90,350.60 C179.33,353.73 179.68,356.32 180.20,358.60 C180.72,360.88 181.70,363.35 182.00,364.30" fill="none" stroke="#222" stroke-width="1.05" stroke-dasharray="1.9,1.3"/>
<text x="91.70" y="226.80" font-family='"Liberation Serif", serif' font-size="11" text-anchor="middle" font-weight="normal" fill="#000" transform="translate(0 -13.608) scale(1 1.06)" stroke="#000" stroke-width="0.25">Empty</text>
<text x="164.90" y="226.70" font-family='"Liberation Serif", serif' font-size="11" text-anchor="middle" font-weight="normal" fill="#000" transform="translate(0 -13.602) scale(1 1.06)" stroke="#000" stroke-width="0.25">Chim3</text>
<text x="232.60" y="265.70" font-family='"Liberation Serif", serif' font-size="11" text-anchor="middle" font-weight="normal" fill="#000" transform="translate(0 -15.942) scale(1 1.06)" stroke="#000" stroke-width="0.25">Day 14</text>
<text x="232.20" y="278.80" font-family='"Liberation Serif", serif' font-size="11" text-anchor="middle" font-weight="normal" fill="#000" transform="translate(0 -16.728) scale(1 1.06)" stroke="#000" stroke-width="0.25">after infection</text>
<text x="232.40" y="336.60" font-family='"Liberation Serif", serif' font-size="11" text-anchor="middle" font-weight="normal" fill="#000" transform="translate(0 -20.196) scale(1 1.06)" stroke="#000" stroke-width="0.25">Day 28</text>
<text x="232.20" y="349.50" font-family='"Liberation Serif", serif' font-size="11" text-anchor="middle" font-weight="normal" fill="#000" transform="translate(0 -20.970) scale(1 1.06)" stroke="#000" stroke-width="0.25">after infection</text>
<line x1="43.80" y1="237.50" x2="43.80" y2="261.60" stroke="#000" stroke-width="1.5"/>
<path d="M43.8,231.7 L47.4,238.6 L40.2,238.6 Z" fill="#000"/>
<text x="45.40" y="297.00" font-family='"Liberation Serif", serif' font-size="11" text-anchor="middle" font-weight="normal" fill="#000" transform="rotate(-90 45.4 297.0)" stroke="#000" stroke-width="0.25">% of maximum</text>
<line x1="43.80" y1="333.20" x2="43.80" y2="372.50" stroke="#000" stroke-width="1.5"/>
<line x1="70.10" y1="382.40" x2="106.40" y2="382.40" stroke="#000" stroke-width="1.4"/>
<text x="117.80" y="386.20" font-family='"Liberation Serif", serif' font-size="11" text-anchor="start" font-weight="normal" fill="#000" transform="translate(0 -23.172) scale(1 1.06)" stroke="#000" stroke-width="0.25">CD4</text>
<line x1="159.30" y1="382.70" x2="191.50" y2="382.70" stroke="#000" stroke-width="1.4"/>
<path d="M197.6,382.7 L190.4,379.7 L190.4,385.7 Z" fill="#000"/>
<rect x="68.15" y="395.35" width="119.9" height="50.7" fill="#fff" stroke="#000" stroke-width="1.3"/>
<line x1="79.50" y1="408.90" x2="110.40" y2="408.90" stroke="#000" stroke-width="1.2" stroke-dasharray="3.4,2"/>
<rect x="80.1" y="418.4" width="30.1" height="5.4" fill="#bcbcbc" stroke="#000" stroke-width="1.1"/>
<rect x="80.1" y="431.2" width="30.1" height="6.3" fill="#fff" stroke="#000" stroke-width="1.1"/>
<text x="119.10" y="412.10" font-family='"Liberation Serif", serif' font-size="8.6" text-anchor="start" font-weight="normal" fill="#000" transform="translate(0 -24.726) scale(1 1.06)" stroke="#000" stroke-width="0.25">Infected cells</text>
<text x="119.10" y="423.80" font-family='"Liberation Serif", serif' font-size="8.6" text-anchor="start" font-weight="normal" fill="#000" transform="translate(0 -25.428) scale(1 1.06)" stroke="#000" stroke-width="0.25">Uninfected cells</text>
<text x="119.10" y="437.20" font-family='"Liberation Serif", serif' font-size="8.6" text-anchor="start" font-weight="normal" fill="#000" transform="translate(0 -26.232) scale(1 1.06)" stroke="#000" stroke-width="0.25">Negative control</text>
<text x="374.80" y="226.00" font-family='"Liberation Serif", serif' font-size="10.6" text-anchor="middle" font-weight="normal" fill="#000" transform="translate(0 -13.560) scale(1 1.06)" stroke="#000" stroke-width="0.25">Empty</text>
<text x="469.80" y="226.00" font-family='"Liberation Serif", serif' font-size="10.6" text-anchor="middle" font-weight="normal" fill="#000" transform="translate(0 -13.560) scale(1 1.06)" stroke="#000" stroke-width="0.25">Chim3</text>
<text x="354.10" y="386.30" font-family='"Liberation Serif", serif' font-size="11" text-anchor="middle" font-weight="normal" fill="#000" transform="translate(0 -23.178) scale(1 1.06)" stroke="#000" stroke-width="0.25">1</text>
<text x="374.70" y="386.30" font-family='"Liberation Serif", serif' font-size="11" text-anchor="middle" font-weight="normal" fill="#000" transform="translate(0 -23.178) scale(1 1.06)" stroke="#000" stroke-width="0.25">2</text>
<text x="394.50" y="386.30" font-family='"Liberation Serif", serif' font-size="11" text-anchor="middle" font-weight="normal" fill="#000" transform="translate(0 -23.178) scale(1 1.06)" stroke="#000" stroke-width="0.25">3</text>
<text x="449.50" y="386.30" font-family='"Liberation Serif", serif' font-size="11" text-anchor="middle" font-weight="normal" fill="#000" transform="translate(0 -23.178) scale(1 1.06)" stroke="#000" stroke-width="0.25">1</text>
<text x="470.30" y="386.30" font-family='"Liberation Serif", serif' font-size="11" text-anchor="middle" font-weight="normal" fill="#000" transform="translate(0 -23.178) scale(1 1.06)" stroke="#000" stroke-width="0.25">2</text>
<text x="490.20" y="386.30" font-family='"Liberation Serif", serif' font-size="11" text-anchor="middle" font-weight="normal" fill="#000" transform="translate(0 -23.178) scale(1 1.06)" stroke="#000" stroke-width="0.25">3</text>
<text x="420.90" y="401.50" font-family='"Liberation Serif", serif' font-size="11" text-anchor="middle" font-weight="normal" fill="#000" transform="translate(0 -24.090) scale(1 1.06)" stroke="#000" stroke-width="0.25">Day 28 after infection</text>
<defs><filter id="bl1" filterUnits="userSpaceOnUse" x="0" y="0" width="520" height="448"><feGaussianBlur stdDeviation="0.8"/></filter><filter id="bl2" filterUnits="userSpaceOnUse" x="0" y="0" width="520" height="448"><feGaussianBlur stdDeviation="1.6"/></filter><filter id="bl3" filterUnits="userSpaceOnUse" x="0" y="0" width="520" height="448"><feGaussianBlur stdDeviation="3"/></filter></defs>
<g>
<rect x="346.20" y="240.00" width="14.60" height="120.00" fill="#000" opacity="0.035" filter="url(#bl2)"/>
<rect x="366.00" y="240.00" width="15.00" height="120.00" fill="#000" opacity="0.035" filter="url(#bl2)"/>
<rect x="386.20" y="240.00" width="15.00" height="120.00" fill="#000" opacity="0.035" filter="url(#bl2)"/>
<rect x="346.00" y="242.50" width="15.00" height="11.00" fill="#000" opacity="0.12" filter="url(#bl2)"/>
<ellipse cx="349" cy="247" rx="3.5" ry="6" fill="#000" opacity="0.22" filter="url(#bl2)"/>
<ellipse cx="352" cy="252" rx="3" ry="3" fill="#000" opacity="0.12" filter="url(#bl2)"/>
<rect x="346.70" y="259.60" width="13.60" height="2.00" fill="#000" opacity="0.2" filter="url(#bl1)"/>
<ellipse cx="347.2" cy="260.6" rx="0.9" ry="1.3" fill="#000" opacity="0.32000000000000006" filter="url(#bl1)"/>
<ellipse cx="359.8" cy="260.6" rx="0.9" ry="1.3" fill="#000" opacity="0.32000000000000006" filter="url(#bl1)"/>
<rect x="346.70" y="264.80" width="13.60" height="1.80" fill="#000" opacity="0.12" filter="url(#bl1)"/>
<ellipse cx="347.2" cy="265.7" rx="0.9" ry="1.2" fill="#000" opacity="0.192" filter="url(#bl1)"/>
<ellipse cx="359.8" cy="265.7" rx="0.9" ry="1.2" fill="#000" opacity="0.192" filter="url(#bl1)"/>
<rect x="346.70" y="271.30" width="13.60" height="4.00" fill="#000" opacity="0.22" filter="url(#bl1)"/>
<ellipse cx="347.2" cy="273.3" rx="0.9" ry="2.3" fill="#000" opacity="0.35200000000000004" filter="url(#bl1)"/>
<ellipse cx="359.8" cy="273.3" rx="0.9" ry="2.3" fill="#000" opacity="0.35200000000000004" filter="url(#bl1)"/>
<rect x="346.00" y="258.00" width="4.00" height="20.00" fill="#000" opacity="0.08" filter="url(#bl2)"/>
<rect x="346.70" y="288.50" width="13.60" height="2.00" fill="#000" opacity="0.08" filter="url(#bl1)"/>
<ellipse cx="347.2" cy="289.5" rx="0.9" ry="1.3" fill="#000" opacity="0.128" filter="url(#bl1)"/>
<ellipse cx="359.8" cy="289.5" rx="0.9" ry="1.3" fill="#000" opacity="0.128" filter="url(#bl1)"/>
<rect x="346.70" y="292.20" width="13.60" height="1.60" fill="#000" opacity="0.07" filter="url(#bl1)"/>
<ellipse cx="347.2" cy="293" rx="0.9" ry="1.1" fill="#000" opacity="0.11200000000000002" filter="url(#bl1)"/>
<ellipse cx="359.8" cy="293" rx="0.9" ry="1.1" fill="#000" opacity="0.11200000000000002" filter="url(#bl1)"/>
<rect x="346.70" y="305.20" width="13.60" height="2.80" fill="#000" opacity="0.2" filter="url(#bl1)"/>
<ellipse cx="347.2" cy="306.6" rx="0.9" ry="1.7" fill="#000" opacity="0.27999999999999997" filter="url(#bl1)"/>
<ellipse cx="359.8" cy="306.6" rx="0.9" ry="1.7" fill="#000" opacity="0.27999999999999997" filter="url(#bl1)"/>
<rect x="346.70" y="327.70" width="13.60" height="1.60" fill="#000" opacity="0.06" filter="url(#bl1)"/>
<ellipse cx="347.2" cy="328.5" rx="0.9" ry="1.1" fill="#000" opacity="0.096" filter="url(#bl1)"/>
<ellipse cx="359.8" cy="328.5" rx="0.9" ry="1.1" fill="#000" opacity="0.096" filter="url(#bl1)"/>
<rect x="346.70" y="334.10" width="13.60" height="1.60" fill="#000" opacity="0.08" filter="url(#bl1)"/>
<ellipse cx="347.2" cy="334.9" rx="0.9" ry="1.1" fill="#000" opacity="0.128" filter="url(#bl1)"/>
<ellipse cx="359.8" cy="334.9" rx="0.9" ry="1.1" fill="#000" opacity="0.128" filter="url(#bl1)"/>
<rect x="346.70" y="340.10" width="13.60" height="2.20" fill="#000" opacity="0.16" filter="url(#bl1)"/>
<ellipse cx="347.2" cy="341.2" rx="0.9" ry="1.4000000000000001" fill="#000" opacity="0.256" filter="url(#bl1)"/>
<ellipse cx="359.8" cy="341.2" rx="0.9" ry="1.4000000000000001" fill="#000" opacity="0.256" filter="url(#bl1)"/>
<rect x="346.70" y="356.40" width="13.60" height="2.60" fill="#000" opacity="0.2" filter="url(#bl1)"/>
<ellipse cx="347.2" cy="357.7" rx="0.9" ry="1.6" fill="#000" opacity="0.36000000000000004" filter="url(#bl1)"/>
<ellipse cx="359.8" cy="357.7" rx="0.9" ry="1.6" fill="#000" opacity="0.36000000000000004" filter="url(#bl1)"/>
<rect x="346.50" y="320.90" width="14.00" height="3.20" fill="#000" opacity="0.95" filter="url(#bl1)"/>
<ellipse cx="347.2" cy="322.5" rx="1.8" ry="2.2" fill="#000" opacity="0.9" filter="url(#bl1)"/>
<ellipse cx="360.2" cy="322.5" rx="1.8" ry="2.2" fill="#000" opacity="0.9" filter="url(#bl1)"/>
<rect x="366.50" y="245.70" width="14.00" height="2.00" fill="#000" opacity="0.08" filter="url(#bl1)"/>
<ellipse cx="367.0" cy="246.7" rx="0.9" ry="1.3" fill="#000" opacity="0.16" filter="url(#bl1)"/>
<ellipse cx="380.0" cy="246.7" rx="0.9" ry="1.3" fill="#000" opacity="0.16" filter="url(#bl1)"/>
<rect x="366.50" y="258.80" width="14.00" height="3.00" fill="#000" opacity="0.18" filter="url(#bl1)"/>
<ellipse cx="367.0" cy="260.3" rx="0.9" ry="1.8" fill="#000" opacity="0.288" filter="url(#bl1)"/>
<ellipse cx="380.0" cy="260.3" rx="0.9" ry="1.8" fill="#000" opacity="0.288" filter="url(#bl1)"/>
<rect x="366.50" y="266.80" width="14.00" height="1.60" fill="#000" opacity="0.07" filter="url(#bl1)"/>
<ellipse cx="367.0" cy="267.6" rx="0.9" ry="1.1" fill="#000" opacity="0.14" filter="url(#bl1)"/>
<ellipse cx="380.0" cy="267.6" rx="0.9" ry="1.1" fill="#000" opacity="0.14" filter="url(#bl1)"/>
<rect x="366.50" y="271.40" width="14.00" height="1.60" fill="#000" opacity="0.07" filter="url(#bl1)"/>
<ellipse cx="367.0" cy="272.2" rx="0.9" ry="1.1" fill="#000" opacity="0.17500000000000002" filter="url(#bl1)"/>
<ellipse cx="380.0" cy="272.2" rx="0.9" ry="1.1" fill="#000" opacity="0.17500000000000002" filter="url(#bl1)"/>
<rect x="366.50" y="287.00" width="14.00" height="2.40" fill="#000" opacity="0.13" filter="url(#bl1)"/>
<ellipse cx="367.0" cy="288.2" rx="0.9" ry="1.5" fill="#000" opacity="0.20800000000000002" filter="url(#bl1)"/>
<ellipse cx="380.0" cy="288.2" rx="0.9" ry="1.5" fill="#000" opacity="0.20800000000000002" filter="url(#bl1)"/>
<rect x="366.50" y="295.10" width="14.00" height="1.60" fill="#000" opacity="0.06" filter="url(#bl1)"/>
<ellipse cx="367.0" cy="295.9" rx="0.9" ry="1.1" fill="#000" opacity="0.15" filter="url(#bl1)"/>
<ellipse cx="380.0" cy="295.9" rx="0.9" ry="1.1" fill="#000" opacity="0.15" filter="url(#bl1)"/>
<rect x="366.50" y="309.00" width="14.00" height="1.60" fill="#000" opacity="0.05" filter="url(#bl1)"/>
<ellipse cx="367.0" cy="309.8" rx="0.9" ry="1.1" fill="#000" opacity="0.125" filter="url(#bl1)"/>
<ellipse cx="380.0" cy="309.8" rx="0.9" ry="1.1" fill="#000" opacity="0.125" filter="url(#bl1)"/>
<rect x="366.50" y="320.90" width="14.00" height="2.00" fill="#000" opacity="0.08" filter="url(#bl1)"/>
<ellipse cx="367.0" cy="321.9" rx="0.9" ry="1.3" fill="#000" opacity="0.12" filter="url(#bl1)"/>
<ellipse cx="380.0" cy="321.9" rx="0.9" ry="1.3" fill="#000" opacity="0.12" filter="url(#bl1)"/>
<ellipse cx="366.8" cy="322" rx="1" ry="1.2" fill="#000" opacity="0.45" filter="url(#bl1)"/>
<rect x="366.50" y="356.90" width="14.00" height="1.60" fill="#000" opacity="0.05" filter="url(#bl1)"/>
<ellipse cx="367.0" cy="357.7" rx="0.9" ry="1.1" fill="#000" opacity="0.1" filter="url(#bl1)"/>
<ellipse cx="380.0" cy="357.7" rx="0.9" ry="1.1" fill="#000" opacity="0.1" filter="url(#bl1)"/>
<rect x="368.00" y="255.00" width="12.00" height="50.00" fill="#000" opacity="0.04" filter="url(#bl2)"/>
<rect x="367.00" y="243.00" width="13.00" height="18.00" fill="#000" opacity="0.05" filter="url(#bl2)"/>
<rect x="387.00" y="245.00" width="13.00" height="22.00" fill="#000" opacity="0.05" filter="url(#bl2)"/>
<rect x="386.70" y="243.80" width="14.00" height="2.00" fill="#000" opacity="0.09" filter="url(#bl1)"/>
<ellipse cx="387.2" cy="244.8" rx="0.9" ry="1.3" fill="#000" opacity="0.144" filter="url(#bl1)"/>
<ellipse cx="400.2" cy="244.8" rx="0.9" ry="1.3" fill="#000" opacity="0.144" filter="url(#bl1)"/>
<rect x="386.70" y="252.50" width="14.00" height="3.00" fill="#000" opacity="0.2" filter="url(#bl1)"/>
<ellipse cx="387.2" cy="254" rx="0.9" ry="1.8" fill="#000" opacity="0.26" filter="url(#bl1)"/>
<ellipse cx="400.2" cy="254" rx="0.9" ry="1.8" fill="#000" opacity="0.26" filter="url(#bl1)"/>
<rect x="386.70" y="257.25" width="14.00" height="2.50" fill="#000" opacity="0.18" filter="url(#bl1)"/>
<ellipse cx="387.2" cy="258.5" rx="0.9" ry="1.55" fill="#000" opacity="0.23399999999999999" filter="url(#bl1)"/>
<ellipse cx="400.2" cy="258.5" rx="0.9" ry="1.55" fill="#000" opacity="0.23399999999999999" filter="url(#bl1)"/>
<rect x="386.70" y="288.80" width="14.00" height="3.00" fill="#000" opacity="0.16" filter="url(#bl1)"/>
<ellipse cx="387.2" cy="290.3" rx="0.9" ry="1.8" fill="#000" opacity="0.22399999999999998" filter="url(#bl1)"/>
<ellipse cx="400.2" cy="290.3" rx="0.9" ry="1.8" fill="#000" opacity="0.22399999999999998" filter="url(#bl1)"/>
<rect x="386.00" y="243.00" width="15.00" height="16.00" fill="#000" opacity="0.07" filter="url(#bl2)"/>
<rect x="386.70" y="313.70" width="14.00" height="1.20" fill="#000" opacity="0.05" filter="url(#bl1)"/>
<ellipse cx="387.2" cy="314.3" rx="0.9" ry="0.8999999999999999" fill="#000" opacity="0.125" filter="url(#bl1)"/>
<ellipse cx="400.2" cy="314.3" rx="0.9" ry="0.8999999999999999" fill="#000" opacity="0.125" filter="url(#bl1)"/>
<rect x="386.70" y="320.00" width="14.00" height="2.40" fill="#000" opacity="0.32" filter="url(#bl1)"/>
<ellipse cx="387.2" cy="321.2" rx="0.9" ry="1.5" fill="#000" opacity="0.512" filter="url(#bl1)"/>
<ellipse cx="400.2" cy="321.2" rx="0.9" ry="1.5" fill="#000" opacity="0.512" filter="url(#bl1)"/>
<ellipse cx="386.8" cy="321.2" rx="1" ry="1.3" fill="#000" opacity="0.55" filter="url(#bl1)"/>
<ellipse cx="400.6" cy="321.2" rx="1" ry="1.3" fill="#000" opacity="0.55" filter="url(#bl1)"/>
<rect x="386.70" y="357.00" width="14.00" height="1.40" fill="#000" opacity="0.04" filter="url(#bl1)"/>
<ellipse cx="387.2" cy="357.7" rx="0.9" ry="1.0" fill="#000" opacity="0.08" filter="url(#bl1)"/>
<ellipse cx="400.2" cy="357.7" rx="0.9" ry="1.0" fill="#000" opacity="0.08" filter="url(#bl1)"/>
</g>
<rect x="344.2" y="236.7" width="60.6" height="136.7" fill="none" stroke="#000" stroke-width="1.5"/>
<rect x="441.00" y="239.00" width="14.00" height="96.00" fill="#000" opacity="0.03" filter="url(#bl2)"/>
<rect x="441.00" y="239.00" width="1.00" height="96.00" fill="#000" opacity="0.05" filter="url(#bl1)"/>
<rect x="454.00" y="239.00" width="1.00" height="96.00" fill="#000" opacity="0.05" filter="url(#bl1)"/>
<rect x="460.50" y="239.00" width="15.00" height="96.00" fill="#000" opacity="0.03" filter="url(#bl2)"/>
<rect x="460.50" y="239.00" width="1.00" height="96.00" fill="#000" opacity="0.05" filter="url(#bl1)"/>
<rect x="474.50" y="239.00" width="1.00" height="96.00" fill="#000" opacity="0.05" filter="url(#bl1)"/>
<rect x="480.50" y="239.00" width="15.50" height="96.00" fill="#000" opacity="0.03" filter="url(#bl2)"/>
<rect x="480.50" y="239.00" width="1.00" height="96.00" fill="#000" opacity="0.05" filter="url(#bl1)"/>
<rect x="495.00" y="239.00" width="1.00" height="96.00" fill="#000" opacity="0.05" filter="url(#bl1)"/>
<rect x="482.00" y="244.00" width="14.00" height="36.00" fill="#000" opacity="0.035" filter="url(#bl3)"/>
<rect x="482.00" y="285.00" width="14.00" height="30.00" fill="#000" opacity="0.06" filter="url(#bl3)"/>
<ellipse cx="440.6" cy="264.5" rx="2.2" ry="4.5" fill="#000" opacity="0.22" filter="url(#bl2)"/>
<rect x="441.50" y="302.75" width="13.00" height="1.50" fill="#000" opacity="0.07" filter="url(#bl1)"/>
<ellipse cx="442.0" cy="303.5" rx="0.9" ry="1.05" fill="#000" opacity="0.14" filter="url(#bl1)"/>
<ellipse cx="454.0" cy="303.5" rx="0.9" ry="1.05" fill="#000" opacity="0.14" filter="url(#bl1)"/>
<rect x="461.00" y="302.75" width="14.00" height="1.50" fill="#000" opacity="0.07" filter="url(#bl1)"/>
<ellipse cx="461.5" cy="303.5" rx="0.9" ry="1.05" fill="#000" opacity="0.14" filter="url(#bl1)"/>
<ellipse cx="474.5" cy="303.5" rx="0.9" ry="1.05" fill="#000" opacity="0.14" filter="url(#bl1)"/>
<rect x="481.00" y="302.50" width="14.50" height="2.00" fill="#000" opacity="0.18" filter="url(#bl1)"/>
<ellipse cx="481.5" cy="303.5" rx="0.9" ry="1.3" fill="#000" opacity="0.396" filter="url(#bl1)"/>
<ellipse cx="495.0" cy="303.5" rx="0.9" ry="1.3" fill="#000" opacity="0.396" filter="url(#bl1)"/>
<ellipse cx="495.0" cy="315.5" rx="4.5" ry="7" fill="#000" opacity="0.42" filter="url(#bl3)"/>
<ellipse cx="495.8" cy="315.5" rx="2.2" ry="3.5" fill="#000" opacity="0.25" filter="url(#bl2)"/>
<ellipse cx="489" cy="312" rx="7" ry="10" fill="#000" opacity="0.07" filter="url(#bl3)"/>
<rect x="441.50" y="330.40" width="13.00" height="2.00" fill="#000" opacity="0.11" filter="url(#bl1)"/>
<ellipse cx="442.0" cy="331.4" rx="0.9" ry="1.3" fill="#000" opacity="0.24200000000000002" filter="url(#bl1)"/>
<ellipse cx="454.0" cy="331.4" rx="0.9" ry="1.3" fill="#000" opacity="0.24200000000000002" filter="url(#bl1)"/>
<rect x="461.00" y="330.40" width="14.00" height="2.00" fill="#000" opacity="0.12" filter="url(#bl1)"/>
<ellipse cx="461.5" cy="331.4" rx="0.9" ry="1.3" fill="#000" opacity="0.264" filter="url(#bl1)"/>
<ellipse cx="474.5" cy="331.4" rx="0.9" ry="1.3" fill="#000" opacity="0.264" filter="url(#bl1)"/>
<rect x="481.00" y="330.30" width="14.50" height="2.20" fill="#000" opacity="0.16" filter="url(#bl1)"/>
<ellipse cx="481.5" cy="331.4" rx="0.9" ry="1.4000000000000001" fill="#000" opacity="0.35200000000000004" filter="url(#bl1)"/>
<ellipse cx="495.0" cy="331.4" rx="0.9" ry="1.4000000000000001" fill="#000" opacity="0.35200000000000004" filter="url(#bl1)"/>
<rect x="440.0" y="236.7" width="59.2" height="136.7" fill="none" stroke="#000" stroke-width="1.5"/>
</svg>
</body></html>
